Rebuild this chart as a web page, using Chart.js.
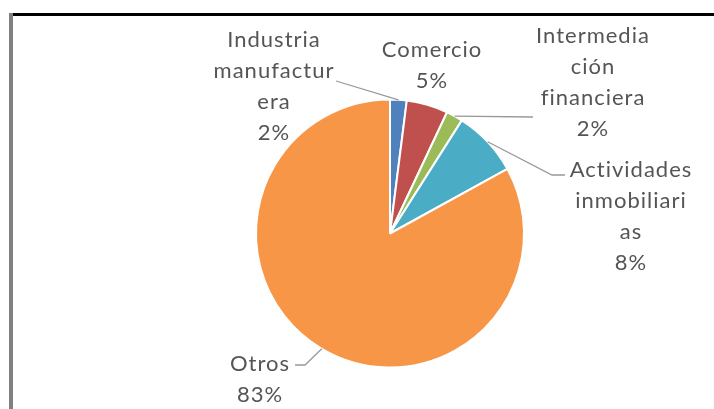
<!DOCTYPE html>
<html>
<head>
<meta charset="utf-8">
<script src="https://cdn.jsdelivr.net/npm/chart.js@4.4.0/dist/chart.umd.min.js"></script>
<style>
  html, body { margin: 0; padding: 0; background: #fff; }
  #wrap { position: relative; width: 714px; height: 409px; }
</style>
</head>
<body>
<div id="wrap"><canvas id="pieChart" width="714" height="409"></canvas></div>
<script>
'use strict';

const sectores = [
  'Industria manufacturera',
  'Comercio',
  'Intermediación financiera',
  'Actividades inmobiliarias',
  'Otros',
];
const porcentajes = [2, 5, 2, 8, 83];
// label text as Excel wrapped it
const etiquetas = [
  ['Industria', 'manufactur', 'era'],
  ['Comercio'],
  ['Intermedia', 'ción', 'financiera'],
  ['Actividades', 'inmobiliari', 'as'],
  ['Otros'],
];
const colores = ['#4f81bd', '#c0504d', '#9bbb59', '#4bacc6', '#f79646'];

// where the data labels sit (center x, middle of first line) + leader elbows
const labelPos = [
  { x: 274, y: 40, leader: [[336, 81]] },
  { x: 432, y: 50, leader: null },
  { x: 593, y: 36, leader: [[533, 117]] },
  { x: 631, y: 170, leader: [[552, 175], [565, 175]] },
  { x: 260, y: 364, leader: [[305, 365], [295, 365]] },
];
const lineH = 31;

const labelsPlugin = {
  id: 'excelLabels',
  afterDraw(chart) {
    const c = chart.ctx;
    c.save();
    // frame
    c.fillStyle = '#000';
    c.fillRect(9, 13, 705, 3);
    c.fillStyle = '#808080';
    c.fillRect(9, 13, 4, 396);

    const arcs = chart.getDatasetMeta(0).data;
    arcs.forEach((arc, i) => {
      const p = labelPos[i];
      if (p.leader) {
        const mid = (arc.startAngle + arc.endAngle) / 2;
        const r = arc.outerRadius;
        c.beginPath();
        c.moveTo(arc.x + Math.cos(mid) * r, arc.y + Math.sin(mid) * r);
        p.leader.forEach((pt) => c.lineTo(pt[0], pt[1]));
        c.strokeStyle = '#999999';
        c.lineWidth = 1.3;
        c.stroke();
      }
      const lines = etiquetas[i].concat([porcentajes[i] + '%']);
      c.fillStyle = '#555555';
      c.font = '22px Lato';
      c.letterSpacing = '1px';
      c.textAlign = 'center';
      c.textBaseline = 'middle';
      lines.forEach((t, k) => c.fillText(t, p.x, p.y + k * lineH));
    });
    c.restore();
  },
};

const ctx = document.getElementById('pieChart');
new Chart(ctx, {
  type: 'pie',
  data: {
    labels: sectores,
    datasets: [
      {
        data: porcentajes,
        backgroundColor: colores,
        borderColor: '#ffffff',
        borderWidth: 2,
        radius: 134,
      },
    ],
  },
  options: {
    responsive: false,
    animation: false,
    layout: { padding: { left: 100, right: 34, top: 72, bottom: 14 } },
    plugins: {
      legend: { display: false },
      tooltip: { enabled: false },
    },
  },
  plugins: [labelsPlugin],
});
</script>
</body>
</html>
